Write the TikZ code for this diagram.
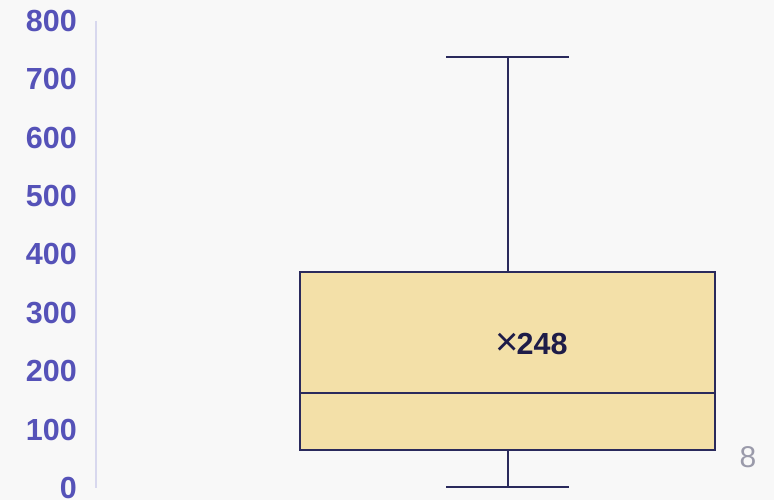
\documentclass[tikz,border=0pt]{standalone}
\usepackage{fontspec}
\setmainfont{Liberation Sans}
\definecolor{bgc}{HTML}{F8F8F8}
\definecolor{lab}{HTML}{5552B8}
\definecolor{axisc}{HTML}{D8D8EE}
\definecolor{boxfill}{HTML}{F3E0A8}
\definecolor{navy}{HTML}{2A2A5C}
\definecolor{meantxt}{HTML}{1E1C48}
\definecolor{greyc}{HTML}{9A9AAA}
\begin{document}
\begin{tikzpicture}[x=1pt,y=1pt,
  ylab/.style={anchor=east,font=\fontsize{30.5}{30}\selectfont\bfseries,text=lab,inner sep=0pt},
  boxline/.style={draw=navy,line width=2pt},
  whisk/.style={draw=navy,line width=2pt}]
\fill[bgc] (0,0) rectangle (774,500);
\useasboundingbox (0,0) rectangle (774,500);
% axis
\draw[axisc,line width=2pt] (96,479) -- (96,12);
% labels (0 at y=12 in tikz coords, 58.4 per 100)
\foreach \v [count=\i from 0] in {0,100,200,300,400,500,600,700,800}
  \node[ylab] (l\v) at (77,{12+58.4*\i}) {\v};
% box: Q1=65 (y=50), median=163 (y=107), Q3=370 (y=228)
\coordinate (q1l) at (300,50);
\coordinate (q3r) at (715,228);
\filldraw[boxline,fill=boxfill] (q1l) rectangle (q3r);
\coordinate (medl) at (300,107);
\coordinate (medr) at (715,107);
\draw[boxline] (medl) -- (medr);
% whiskers
\coordinate (wtop) at (508,443);
\coordinate (btop) at (508,228);
\coordinate (wbot) at (508,13);
\coordinate (bbot) at (508,50);
\draw[whisk] (btop) -- (wtop);
\draw[whisk] (bbot) -- (wbot);
\coordinate (ct1) at (446,443); \coordinate (ct2) at (569,443);
\coordinate (cb1) at (446,13); \coordinate (cb2) at (569,13);
\draw[whisk] (ct1) -- (ct2);
\draw[whisk] (cb1) -- (cb2);
% mean
\node[inner sep=0pt,text=meantxt,font=\fontsize{40}{40}\selectfont] (mx) at (507.5,156) {×};
\node[anchor=west,inner sep=0pt,text=meantxt,font=\fontsize{30.5}{30}\selectfont\bfseries] (mv) at (516.5,156) {248};
% count
\node[inner sep=0pt,text=greyc,font=\fontsize{30}{30}\selectfont] (cnt) at (748,43) {8};
\end{tikzpicture}
\end{document}
